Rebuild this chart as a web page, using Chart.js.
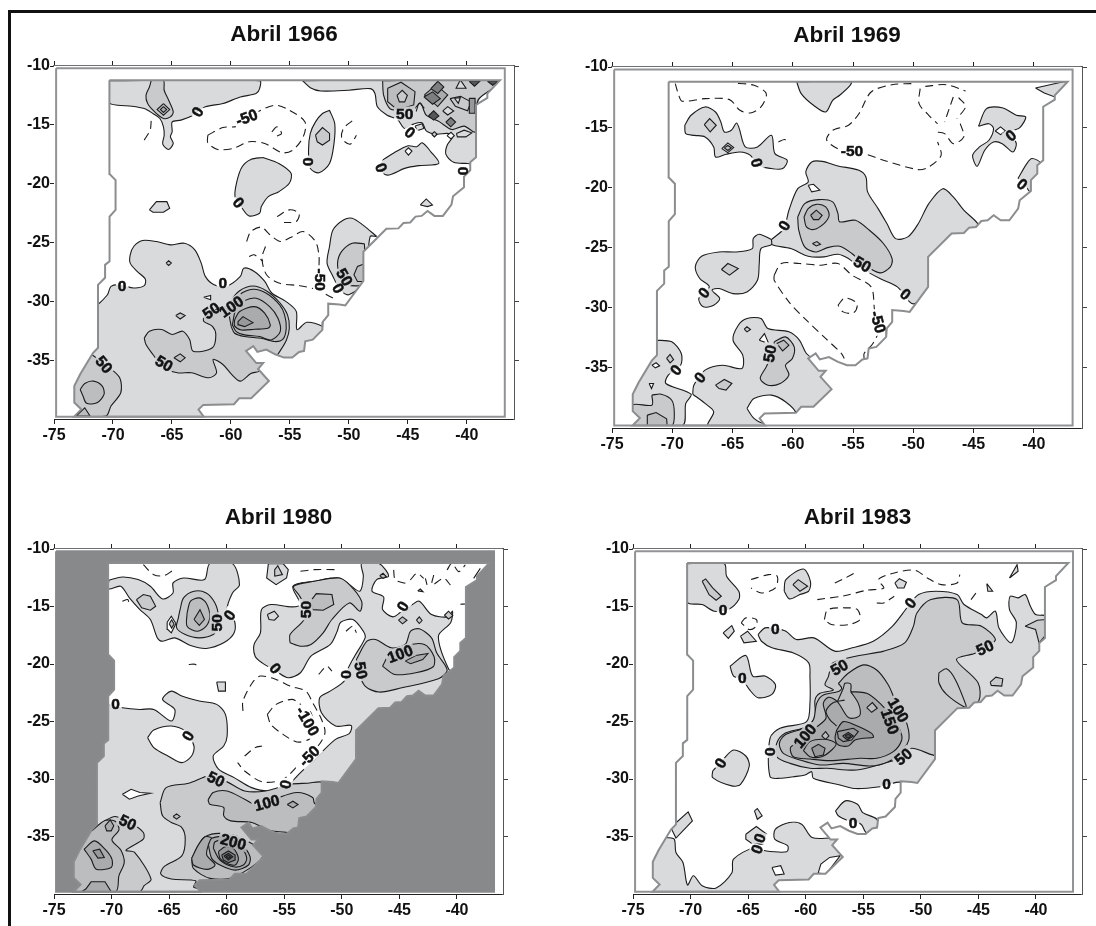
<!DOCTYPE html>
<html>
<head>
<meta charset="utf-8">
<title>Abril</title>
<script src="https://cdn.jsdelivr.net/npm/chart.js@4/dist/chart.umd.min.js"></script>
<style>
  html, body { margin: 0; height: 100%; background: #fff; overflow: hidden; }
  #border { position: absolute; left: 8px; top: 10px; right: 0; bottom: 0; border-top: 3px solid #111; border-left: 3px solid #111; }
  canvas { position: absolute; }
</style>
</head>
<body>
<div id="border"></div>
<canvas id="map1966"></canvas>
<canvas id="map1969"></canvas>
<canvas id="map1980"></canvas>
<canvas id="map1983"></canvas>
<script>
const tickLon = [-75, -70, -65, -60, -55, -50, -45, -40];
const tickLat = [-10, -15, -20, -25, -30, -35];
const shades = ['#ffffff', '#d9dadc', '#c9cacc', '#bcbdbf', '#aaabad', '#98999b', '#7d7e80', '#55565a'];

const plotEdge = [-75,-10, -75,-40, -36,-40, -36,-10, -75,-10];
const frame = [-74.82,-10.2, -74.82,-39.8, -36.78,-39.8, -36.78,-10.2, -74.82,-10.2];
const domain = [-70.3,-11.22, -37.19,-11.22, -38.26,-12.35, -38.26,-12.71, -39.22,-13.3, -39.22,-17.75, -39.71,-18.17, -39.71,-18.86, -40.24,-19.4, -40.24,-20.3, -41.17,-21.07, -41.3,-21.77, -42.03,-22.74, -42.75,-22.74, -43.33,-22.32, -43.83,-22.74, -44.35,-22.8, -44.8,-23.3, -45.37,-23.35, -45.8,-23.8, -46.82,-23.84, -48.77,-25.78, -48.77,-28.27, -50.3,-30.35, -50.8,-30.27, -51.75,-30.2, -51.75,-31.18, -52.2,-31.73, -52.25,-32.43, -53.06,-33.26, -53.7,-33.4, -53.8,-34.22, -54.22,-34.3, -54.8,-34.78, -55.5,-34.78, -56.25,-34.5, -57,-34.1, -57.76,-34.3, -58.1,-33.8, -58.72,-34.22, -57.85,-35.25, -57.27,-35.25, -57.7,-35.75, -56.78,-36.77, -58.28,-38.24, -59.3,-38.24, -59.74,-38.74, -62.35,-38.8, -62.75,-39.2, -62.3,-39.8, -73.3,-39.8, -72.69,-39.18, -73.28,-38.6, -73.28,-37.2, -72.78,-36.2, -71.7,-34.4, -71.27,-33.95, -71.27,-28.6, -70.67,-28, -70.67,-26.9, -70.29,-26.6, -70.29,-22.8, -69.78,-22.23, -69.78,-19.7, -70.29,-19.18];

// Abril 1966
const nw66 = [-70.29,-11.24, -57.57,-11.24, -57.57,-11.92, -57.87,-12.34, -59.2,-12.63, -60.68,-13.19, -62.17,-13.47, -63.2,-14.18, -64.24,-14.6, -64.98,-14.75, -64.98,-15.59, -65.13,-16.02, -64.89,-16.58, -65.28,-17.09, -65.78,-16.64, -65.66,-15.88, -65.72,-15.17, -66.02,-14.46, -66.61,-14.04, -67.35,-13.62, -68.39,-13.42, -69.58,-13.33, -70.29,-13.14];
const nwMid66 = [-66.76,-11.24, -65.72,-11.24, -65.66,-12.06, -65.28,-12.91, -64.89,-13.9, -65.13,-14.32, -65.72,-14.46, -66.46,-13.9, -67.06,-13.19, -67.2,-12.49, -66.91,-11.78];
const nwPeak66 = [-65.72,-13.19, -65.19,-13.7, -65.72,-14.18, -66.26,-13.7];
const nwTop66 = [-65.72,-13.45, -65.45,-13.7, -65.72,-13.95, -65.98,-13.7];
const ne66 = [-53.93,-11.24, -53.27,-11.84, -52.39,-12.12, -50.01,-12.06, -48.18,-11.92, -47.79,-12.34, -47.58,-13.47, -46.75,-14.18, -45.87,-14.55, -45.27,-15.31, -44.53,-14.94, -43.79,-14.83, -43.44,-15.51, -42.6,-15.79, -41.57,-15.73, -41.21,-16.02, -41.66,-16.72, -41.78,-17.49, -41.12,-18.19, -39.94,-18.28, -39.05,-18.28, -39.05,-12.9, -37,-11.24];
const neMid66 = [-47.14,-11.24, -47.05,-12.49, -46.52,-13.62, -45.87,-13.76, -44.53,-13.7, -43.94,-13.14, -43.44,-14.18, -42.31,-14.75, -41.27,-15.4, -40.23,-15.11, -39.29,-15.59, -39.05,-12.9, -37,-11.24];
const neRing66 = [-46.71,-11.89, -45.58,-11.38, -44.39,-12.18, -44.5,-13.31, -45.86,-13.73, -46.71,-13.03];
const neA66 = [-45.92,-12.49, -45.48,-12.06, -45.04,-12.49, -45.27,-13.05, -45.72,-13.05];
const neRingB66 = [-43.6,-12.46, -42.61,-11.61, -41.62,-12.46, -42.47,-13.45];
const neB66 = [-43.64,-12.63, -42.9,-12.2, -42.25,-12.77, -42.9,-13.25];
const neC66 = [-43.26,-14.24, -42.81,-13.81, -42.37,-14.24, -42.81,-14.6];
const neD66 = [-41.78,-14.77, -41.36,-14.38, -40.95,-14.77, -41.36,-15.17];
const neE66 = [-43.05,-11.92, -42.46,-11.3, -41.95,-11.78, -42.46,-12.34];
const neF66 = [-39.8,-11.3, -38.9,-11.3, -39.35,-11.72];
const neG66 = [-38.25,-11.3, -37.33,-11.3, -37.8,-11.64];
const neH66 = [-42.04,-13.82, -41.62,-13.45, -41.11,-13.82, -41.62,-14.16];
const neI66 = [-41.42,-12.77, -40.53,-12.57, -39.64,-13.05, -39.94,-13.81, -40.97,-13.42];
const neJ66 = [-40.55,-11.18, -40.07,-11.89, -40.91,-11.89];
const neK66 = [-44.38,-15.1, -43.79,-14.9, -43.64,-15.31, -44.23,-15.51];
const neL66 = [-40.88,-15.73, -40.23,-15.45, -39.58,-15.68, -40.08,-16.02, -40.8,-16.02];
const neM66 = [-41.05,-12.74, -40.55,-12.69, -40.72,-13.17];
const neN66 = [-39.79,-12.75, -39.3,-12.75, -39.3,-14.02, -39.79,-14.02];
const neO66 = [-42.98,-15.8, -42.75,-15.58, -42.52,-15.8, -42.75,-16.03];
const neP66 = [-41.68,-15.92, -41.34,-15.63, -41.06,-15.92, -41.34,-16.2];
const neLine66 = [-44.3,-13.87, -44.02,-13.17, -43.6,-13.59];
const mid66 = [-47.05,-17.94, -46.16,-17.37, -44.98,-16.78, -44.24,-16.86, -43.79,-16.53, -43.05,-17.29, -42.37,-18.28, -44.09,-18.47, -45.27,-18.7, -46.75,-19.27, -47.5,-18.6];
const midHole66 = [-45.24,-17.23, -44.95,-16.95, -44.65,-17.23, -44.95,-17.57];
const oval66 = [-51.64,-13.76, -51.2,-14.89, -51.26,-16.58, -51.64,-18.28, -52.53,-19.07, -53.27,-18.7, -53.42,-17.15, -53.27,-15.73, -52.83,-14.75, -52.24,-14.04];
const ovalIn66 = [-52.83,-15.88, -52.24,-15.23, -51.64,-15.73, -51.64,-16.3, -52.24,-16.72, -52.68,-16.44];
const centre66 = [-57.28,-17.77, -55.94,-18.28, -54.9,-19.12, -55.05,-19.97, -55.94,-20.68, -56.83,-21.1, -57.42,-21.95, -57.57,-22.51, -58.46,-22.74, -59.05,-22.09, -59.65,-21.1, -59.5,-19.83, -59.05,-18.56, -58.31,-17.94];
const west66 = [-66.91,-22.23, -66.32,-21.53, -65.43,-21.53, -65.19,-22.09, -65.72,-22.43, -66.61,-22.43];
const tiny66 = [-43.94,-21.81, -43.44,-21.3, -42.91,-21.81, -43.35,-21.95];
const coast66 = [-47.64,-24.49, -48.83,-23.5, -49.72,-22.94, -50.46,-23.08, -51.35,-23.93, -51.64,-25.34, -51.85,-26.75, -51.35,-27.88, -50.75,-29.01, -50.01,-29.44, -48.68,-28.31, -48.2,-24.5];
const coastMid66 = [-48.68,-25.11, -49.72,-25.06, -50.61,-25.76, -50.96,-26.75, -50.75,-27.74, -50.16,-28.59, -48.68,-28.45];
const coastTop66 = [-48.68,-26.81, -49.27,-27.03, -49.57,-27.74, -49.27,-28.31, -48.68,-28.31];
const south66 = [-71.27,-30.28, -70.47,-29.44, -70.17,-28.73, -69.43,-28.59, -68.24,-28.87, -67.35,-28.67, -67.26,-28.11, -67.95,-27.46, -68.54,-26.75, -68.54,-26.05, -68.24,-25.34, -67.5,-24.83, -66.32,-24.92, -65.13,-25.2, -63.94,-25.06, -63.06,-25.62, -62.52,-26.75, -62.17,-27.88, -61.43,-28.59, -60.39,-28.73, -59.2,-27.88, -58.91,-27.18, -58.02,-27.46, -57.13,-28.31, -56.54,-29.29, -55.35,-30, -54.46,-30.85, -54.4,-32.4, -53.57,-31.78, -52.24,-32.12, -51,-33, -55,-39.7, -74.6,-39.7, -74.6,-30.28];
const southMid66 = [-67.35,-33.11, -66.91,-32.54, -65.87,-32.4, -64.98,-32.82, -64.09,-32.54, -63.5,-33.25, -63.2,-34.24, -61.57,-33.95, -61.28,-32.82, -61.57,-32.12, -62.31,-31.69, -62.17,-31.13, -60.39,-30.28, -59.26,-29.1, -58.13,-28.7, -57,-29.1, -55.87,-30.1, -55.2,-31.15, -55.05,-32.29, -55.3,-33.3, -55.94,-34.38, -56.24,-34.8, -57.57,-35.93, -58.31,-36.13, -59.2,-36.78, -59.94,-36.21, -60.68,-35.37, -61.51,-34.94, -61.22,-36.07, -61.87,-36.5, -63.35,-36.07, -64.54,-36.07, -65.72,-35.65, -66.61,-34.52, -67.2,-33.67];
const swMid66 = [-71.8,-34.52, -70.47,-35.51, -69.43,-36.5, -69.34,-37.77, -70.17,-38.9, -70.61,-39.75, -74.6,-39.75, -74.6,-34.52];
const swPeak66 = [-72.78,-37.49, -72.39,-36.98, -71.65,-36.78, -70.91,-37.2, -70.76,-37.91, -71.35,-38.62, -72.24,-38.67, -72.54,-38.05];
const swLow66 = [-73.13,-39.75, -72.39,-39.05, -71.95,-39.75];
const peakA66 = [-59.97,-32.15, -60.11,-31.01, -59.26,-29.45, -58.13,-28.97, -57,-29.31, -55.87,-30.3, -55.45,-31.15, -55.31,-32.29, -55.59,-33.22, -56.3,-33.42, -57.43,-33.14, -58.84,-32.99, -59.69,-32.71];
const peakB66 = [-59.88,-32, -59.55,-30.59, -58.84,-29.94, -57.85,-29.74, -56.72,-30.45, -56.01,-31.44, -55.82,-32.57, -56.58,-33.28, -57.57,-32.99, -58.84,-32.85, -59.55,-32.57];
const peakC66 = [-59.69,-31.58, -59.26,-30.87, -57.99,-30.45, -57.14,-31.01, -56.66,-32, -56.86,-32.29, -57.99,-32.37, -59.12,-32.43, -59.69,-32.09];
const peakD66 = [-59.4,-31.72, -58.98,-31.3, -58.13,-31.81, -58.84,-32.15, -59.32,-32];
const dotA66 = [-64.68,-31.21, -64.3,-30.99, -63.88,-31.21, -64.3,-31.5];
const dotB66 = [-64.83,-34.8, -64.3,-34.46, -63.88,-34.8, -64.3,-35.14];
const dotC66 = [-62.31,-29.66, -61.72,-29.5, -61.72,-29.86];
const dotD66 = [-65.5,-26.75, -65.28,-26.55, -65.05,-26.75, -65.28,-26.95];
const dashA66 = [-61.96,-15.88, -60.68,-15.23, -59.5,-15.11, -57.72,-13.9, -56.24,-13.33, -55.05,-13.76, -53.72,-14.75, -53.87,-16.02, -54.76,-17.15, -55.65,-17.37, -57.13,-16.58, -58.46,-16.44, -59.8,-17, -61.13,-17.09, -61.96,-16.53, -61.96,-15.88];
const dashB66 = [-56.53,-15.59, -56.09,-15.17, -55.71,-15.73, -56.09,-15.96];
const dashC66 = [-49.72,-14.66, -50.46,-15.31, -50.6,-16.16, -49.87,-16.64, -49.36,-15.88];
const dashD66 = [-66.76,-14.66, -66.85,-15.45, -67.35,-16.3];
const dashE66 = [-58.67,-24.91, -58.31,-24.07, -57.42,-23.7, -56.68,-24.35, -55.79,-24.92, -54.9,-24.55, -53.87,-24.07, -52.83,-24.92, -52.53,-26.19, -52.53,-27.46, -52.24,-29.15, -51.35,-29.72];
const dashF66 = [-57.07,-25.34, -57.37,-26.33, -56.98,-27.74, -55.94,-28.45, -54.16,-28.67, -52.83,-28.95];
const dashG66 = [-58.46,-26.19, -58.02,-26.05, -57.28,-26.6];
const dashH66 = [-56.09,-22.8, -55.05,-22.23, -54.22,-22.51, -54.46,-23.22, -55.5,-23.3];
const layers1966 = [[1,nw66],[2,nwMid66],[3,nwPeak66],[4,nwTop66],[1,ne66],[2,neMid66],[3,neRing66],[2,neA66],[4,neRingB66],[6,neB66],[7,neC66],[6,neD66],[6,neE66],[7,neF66],[7,neG66],[1,neH66],[2,neI66],[1,neJ66],[1,neK66],[1,neL66],[1,neM66],[5,neN66],[2,neO66],[0,neP66],[1,mid66],[0,midHole66],[1,oval66],[2,ovalIn66],[1,centre66],[1,west66],[1,tiny66],[1,coast66],[2,coastMid66],[3,coastTop66],[1,south66],[2,southMid66],[2,swMid66],[3,swPeak66],[3,swLow66],[3,peakA66],[3,peakB66],[4,peakC66],[5,peakD66],[2,dotA66],[3,dotB66],[0,dotC66],[2,dotD66]];
const solids1966 = [neLine66];
const dashes1966 = [dashA66, dashB66, dashC66, dashD66, dashE66, dashF66, dashG66, dashH66];
const labels1966 = [['0',-62.82,-13.9,-60],['-50',-58.67,-14.38,-20],['0',-53.42,-18.14,90],['0',-44.83,-15.65,40],['50',-45.27,-14.04,0],['0',-47.26,-18.64,70],['0',-40.32,-18.93,90],['0',-59.35,-21.61,50],['0',-69.22,-28.64,0],['0',-60.68,-28.45,0],['-50',-52.44,-28.16,90],['50',-50.37,-27.94,60],['0',-50.9,-28.9,60],['50',-61.66,-30.79,-35],['100',-59.97,-30.45,-35],['50',-70.76,-35.37,50],['50',-65.66,-35.28,30]];

// Abril 1969
const top69 = [-59.68,-11.22, -59.3,-12.21, -58.28,-13.18, -57.27,-13.74, -56.69,-12.77, -56.11,-12.35, -55.24,-11.52, -55.15,-11.22];
const lobe69 = [-68.96,-14.84, -68.44,-14.01, -67.28,-13.32, -66.41,-13.74, -65.97,-14.57, -65.68,-15.4, -65.1,-15.26, -64.67,-14.65, -64.44,-15.12, -63.94,-16.64, -62.93,-16.64, -61.77,-15.68, -61.48,-17.2, -60.46,-17.75, -60.84,-18.44, -61.77,-18.44, -62.93,-18.17, -63.51,-17.34, -64.38,-17.06, -65.54,-17.25, -66.41,-17.48, -66.56,-16.64, -67.28,-15.81, -68.15,-15.68, -68.88,-15.54];
const lobeA69 = [-67.34,-14.79, -66.9,-14.29, -66.35,-14.84, -66.85,-15.4];
const lobeB69 = [-65.89,-16.78, -65.39,-16.31, -64.9,-16.7, -65.39,-17.12];
const lobeC69 = [-65.68,-16.72, -65.39,-16.52, -65.1,-16.72, -65.39,-16.94];
const main69 = [-61.77,-24.34, -60.75,-23.43, -60.32,-21.9, -59.59,-20.11, -58.72,-19.55, -58.92,-18.72, -58.43,-17.89, -57.56,-17.84, -56.25,-18.22, -54.51,-18.58, -53.93,-19.14, -53.79,-20.38, -52.92,-21.77, -52.19,-23.01, -51.47,-24.26, -50.45,-24.12, -49.58,-23.01, -48.71,-21.35, -47.55,-20.11, -46.68,-20.8, -45.81,-21.9, -44.7,-22.96, -44.36,-23.84, -47.84,-28.27, -49.87,-29.66, -50.3,-29.52, -51.32,-28.27, -52.77,-27.58, -54.51,-26.61, -55.38,-25.92, -56.25,-25.56, -57.41,-25.78, -58.72,-25.73, -60.17,-25.09, -61.77,-24.76];
const mainHole69 = [-58.72,-19.83, -58.28,-19.75, -57.76,-20.24, -58.43,-20.38];
const mainMid69 = [-59.59,-22.46, -59.01,-21.35, -57.85,-21.02, -56.69,-21.21, -56.25,-22.18, -56.11,-22.87, -54.8,-22.74, -53.64,-23.57, -52.48,-24.67, -51.76,-25.92, -51.9,-26.61, -52.77,-27.11, -54.22,-26.33, -55.09,-25.5, -56.11,-24.89, -57.12,-25.01, -58.14,-25.37, -59.01,-24.95, -59.5,-23.57];
const mainHigh69 = [-59.07,-22.46, -58.72,-21.77, -58,-21.41, -57.27,-21.63, -56.98,-22.32, -57.41,-23.01, -58.28,-23.51, -58.86,-23.29];
const mainTop69 = [-58.52,-22.32, -58.05,-21.9, -57.56,-22.32, -57.85,-22.68, -58.28,-22.68];
const mainDot69 = [-58.37,-24.67, -57.99,-24.51, -57.7,-24.73, -58.05,-24.87];
const west69 = [-61.77,-24.34, -62.78,-23.9, -63.28,-24.26, -63.36,-25.09, -64.67,-25.37, -66.12,-25.37, -67.57,-25.73, -68.09,-26.61, -67.72,-27.58, -66.93,-28.27, -67.8,-29.24, -67.43,-29.93, -66.56,-29.8, -66.06,-29.24, -66.7,-28.55, -66.12,-28.41, -64.96,-28.83, -63.8,-28.69, -62.93,-27.72, -62.78,-26.33, -62.64,-25.09, -61.77,-24.76];
const westIn69 = [-65.92,-26.83, -65.39,-26.33, -64.52,-26.75, -65.25,-27.3];
const south69 = [-68.3,-37.19, -68.21,-36.44, -67.28,-35.19, -65.83,-34.78, -64.23,-35.06, -64.15,-33.95, -64.96,-32.7, -64.52,-31.46, -63.8,-30.9, -62.64,-30.9, -62.06,-31.73, -60.32,-32.01, -59.45,-32.7, -58.87,-33.81, -58.28,-34.22, -55,-35.5, -56,-38.5, -60,-39.7, -67,-39.8, -66.56,-38.65, -67.28,-37.96];
const southHole69 = [-63.8,-38.38, -63.22,-37.55, -61.77,-37.27, -60.61,-37.82, -59.74,-38.79, -60.6,-39.35, -62.35,-39.62, -63.22,-39.2];
const southMid69 = [-61.53,-32.84, -60.61,-32.43, -59.88,-33.26, -60.03,-34.22, -60.61,-34.78, -60.32,-35.61, -61.04,-36.3, -62.06,-36.44, -62.7,-35.89, -62.2,-34.92, -61.77,-33.95];
const southTop69 = [-61.33,-32.98, -60.75,-32.7, -60.32,-33.12, -60.84,-33.59];
const southWhite69 = [-62.78,-32.7, -62.35,-32.15, -62,-32.98];
const southDot69 = [-64.03,-31.79, -63.8,-31.59, -63.51,-31.82, -63.8,-32.01];
const southBlob69 = [-66.41,-36.44, -65.68,-35.97, -65.05,-36.3, -65.54,-36.85, -66.12,-36.72];
const sw69 = [-71.34,-32.7, -70.04,-32.84, -69.25,-33.81, -69.31,-34.78, -70.33,-35.61, -70.53,-36.3, -68.44,-37.19, -68.88,-37.96, -69.17,-39.8, -74.6,-39.8, -74.6,-32.7];
const swDot69 = [-70.47,-34.22, -70.18,-33.89, -69.89,-34.32, -70.18,-34.59];
const swWhiteA69 = [-71.69,-34.78, -71.34,-34.58, -71.05,-34.83, -71.4,-35];
const swWhiteB69 = [-71.92,-36.3, -71.55,-36.3, -71.72,-36.72];
const swMid69 = [-71.69,-37.27, -70.91,-37.19, -70.04,-37.69, -69.83,-38.79, -70.04,-39.8, -73.23,-39.8, -73.32,-38.1, -71.69,-38.1];
const swHigh69 = [-72.07,-38.93, -71.34,-38.71, -70.47,-39.23, -70.42,-39.8, -72.07,-39.8];
const ne69 = [-44.59,-14.93, -43.92,-13.46, -42.62,-13.38, -41.45,-14.01, -40.67,-14.15, -41.16,-15.04, -41.89,-15.4, -41.45,-16.37, -41.74,-17.06, -42.62,-16.37, -43.34,-16.23, -44.07,-16.92, -44.7,-18.25, -45.08,-17.34, -44.5,-16.64, -43.72,-16.09, -43.34,-15.12, -43.72,-14.71];
const neHole69 = [-43.2,-15.32, -42.76,-14.98, -42.34,-15.32, -42.76,-15.62];
const edge69 = [-41.31,-19.27, -40.58,-18.03, -40.15,-17.61, -39.4,-18.03, -39.7,-19.97, -40.29,-20.38, -40.87,-19.55];
const corner69 = [-39.86,-11.74, -38.84,-11.52, -37.54,-11.22, -37,-11.22, -38.26,-12.49, -39.13,-12.16];
const dashA69 = [-50.16,-11.38, -51.76,-11.47, -53.5,-12.08, -54.51,-13.88, -55.38,-14.84, -56.69,-15.26, -57.18,-16.09, -55.96,-16.92, -54.08,-17.2, -52.48,-17.75, -49.58,-18.53, -48.71,-18.31, -47.69,-17.34, -47.98,-16.23];
const dashB69 = [-49.43,-11.8, -49.52,-13.05, -48.71,-14.01, -47.98,-14.71];
const dashC69 = [-49,-11.61, -47.26,-11.47, -45.66,-11.99];
const dashD69 = [-46.68,-12.49, -46.97,-13.32, -47.4,-14.57];
const dashE69 = [-46.24,-12.55, -45.66,-13.27, -46.39,-14.29];
const dashF69 = [-46.1,-14.71, -45.81,-15.81, -46.68,-16.37, -47.4,-15.54, -48.13,-15.4];
const dashG69 = [-69.75,-11.38, -69.46,-12.35, -69.17,-12.85, -67.28,-12.63, -65.25,-12.71, -64.38,-13.6, -63.51,-13.82, -62.64,-13.32, -62.2,-12.21, -63.22,-11.52, -64.96,-11.33];
const dashH69 = [-61.19,-16.23, -60.67,-16.03, -60.32,-16.37];
const dashI69 = [-61.54,-27.3, -60.95,-26.33, -59.45,-26.33, -57.7,-26.47, -56.25,-26.33, -55.09,-27.3, -53.5,-28.27, -53.21,-30.21, -52.83,-31.73, -53.35,-32.98, -54.08,-33.81, -54.08,-34.22];
const dashJ69 = [-61.54,-27.3, -61.54,-27.72, -60.32,-29.52, -58.87,-31.04, -57.41,-32.43, -55.96,-33.81, -55.73,-34.22];
const dashK69 = [-56.25,-29.8, -55.67,-29.19, -54.66,-29.66, -54.95,-30.43, -55.82,-30.35, -56.25,-29.8];
const layers1969 = [[1,top69],[1,lobe69],[2,lobeA69],[2,lobeB69],[3,lobeC69],[1,main69],[0,mainHole69],[2,mainMid69],[3,mainHigh69],[4,mainTop69],[3,mainDot69],[1,west69],[2,westIn69],[1,south69],[0,southHole69],[2,southMid69],[3,southTop69],[0,southWhite69],[2,southDot69],[2,southBlob69],[1,sw69],[2,swDot69],[0,swWhiteA69],[0,swWhiteB69],[2,swMid69],[3,swHigh69],[1,ne69],[0,neHole69],[1,edge69],[1,corner69]];
const dashes1969 = [dashA69, dashB69, dashC69, dashD69, dashE69, dashF69, dashG69, dashH69, dashI69, dashJ69, dashK69];
const labels1969 = [['-50',-55.09,-16.92,0],['0',-62.99,-17.97,75],['0',-60.69,-23.18,-60],['50',-54.22,-26.39,30],['0',-50.65,-28.88,40],['0',-67.37,-28.77,-50],['0',-41.89,-15.68,-40],['0',-40.96,-19.75,40],['-50',-52.92,-31.18,75],['50',-61.91,-33.81,-80],['0',-69.69,-35.19,-50],['0',-67.69,-35.8,-50]];

// Abril 1980
const nw80 = [-70.24,-12.72, -69.06,-12.43, -67.69,-12.66, -66.63,-13.24, -65.57,-14.34, -64.66,-13.82, -64.66,-12.95, -63.75,-12.52, -61.93,-12.66, -61.47,-11.27, -59.5,-11.27, -58.89,-13.1, -59.5,-13.82, -59.96,-15.27, -59.35,-16.13, -59.35,-17.29, -60.26,-18.16, -61.78,-18.65, -63.14,-18.39, -64.51,-17.73, -65.57,-18.02, -66.02,-17.73, -66.63,-16.13, -67.54,-15.27, -68.45,-14.25, -69.21,-13.24, -70.24,-13.47];
const nwMid80 = [-64.05,-15.27, -63.75,-14.25, -62.84,-13.67, -61.78,-13.82, -61.02,-14.69, -60.71,-15.85, -60.81,-16.86, -61.17,-17.44, -62.38,-17.73, -63.6,-17.44, -64.35,-16.86, -64.2,-15.99];
const nwHigh80 = [-63.44,-15.56, -63.14,-14.54, -62.38,-14.25, -61.78,-14.69, -61.47,-15.85, -61.78,-16.71, -62.53,-17.15, -63.44,-16.71];
const nwTop80 = [-62.84,-16.13, -62.32,-15.27, -61.93,-16.13, -62.38,-16.65];
const nwLobe80 = [-67.84,-14.4, -67.24,-13.96, -66.63,-14.11, -66.17,-14.98, -66.63,-15.32, -67.39,-15.12];
const nwHole80 = [-65.17,-16.37, -64.81,-15.85, -64.41,-16.48, -64.81,-17.29, -65.11,-17];
const nwDot80 = [-64.99,-16.5, -64.78,-16.15, -64.57,-16.52, -64.78,-16.88];
const topBlob80 = [-56.38,-11.27, -56.53,-12.52, -55.71,-13.1, -54.8,-12.52, -54.65,-11.79, -55.1,-11.27];
const topIn80 = [-55.83,-11.79, -55.56,-11.45, -55.16,-12.23, -55.86,-12.37];
const main80 = [-70.24,-23.51, -69.06,-23.8, -67.54,-23.95, -66.33,-23.95, -64.81,-24.96, -64.51,-23.95, -65.57,-23.08, -64.81,-22.36, -63.9,-22.79, -62.38,-23.22, -60.87,-23.51, -60.11,-24.38, -59.96,-26.26, -60.26,-27.13, -61.17,-28, -60.71,-29.15, -59.35,-29.88, -57.83,-30.75, -56.32,-31.04, -54.8,-30.6, -53.59,-29.44, -52.37,-28.29, -50.55,-26.55, -49.34,-26.03, -49.19,-25.34, -50.55,-25.39, -51.77,-24.24, -51.92,-22.93, -51.01,-22.36, -49.8,-21.49, -49.49,-20.47, -48.89,-19.32, -47.98,-17.73, -48.13,-17.15, -49.04,-16.13, -50.1,-16.37, -50.4,-17.15, -51,-18.3, -52.68,-19.32, -53.59,-20.76, -54.65,-21.2, -55.71,-20.62, -56.92,-19.9, -57.53,-19.32, -57.62,-18.3, -57.07,-17.29, -56.98,-15.27, -56.16,-14.83, -54.35,-15.03, -53.59,-14.83, -54.25,-13.24, -52.37,-12.81, -50.25,-12.52, -49.34,-13.1, -48.43,-13.67, -48.13,-12.37, -48.28,-11.27, -46.76,-11.27, -45.94,-12.37, -46.97,-12.66, -47.37,-13.67, -46.37,-14.17, -46.46,-15.27, -45.55,-15.9, -44.79,-15.41, -43.88,-14.83, -43.27,-14.54, -42.21,-15.7, -40.79,-15.9, -40.39,-15.41, -40.55,-16.42, -41.61,-17.58, -40.7,-20.47, -39.94,-21.05, -42,-24, -47,-26, -48,-30, -53,-35, -56,-39.7, -74.6,-39.8, -74.6,-23.51];
const lakeA80 = [-66.87,-26.41, -66.33,-25.74, -64.81,-25.39, -63.6,-25.83, -62.84,-27.13, -63.05,-28, -63.9,-28.58, -65.11,-28, -66.33,-27.27];
const lakeB80 = [-69.06,-31.33, -68.3,-30.89, -67.54,-31.18, -66.63,-31.24, -67.69,-31.48, -68.45,-31.76];
const upper80 = [-54.5,-18.16, -54.5,-17.44, -53.28,-16.13, -53.22,-14.98, -53.65,-14.11, -54.19,-13.24, -52.37,-12.81, -50.25,-12.52, -49.34,-13.1, -48.28,-14.54, -48.43,-15.41, -49.34,-14.69, -50.86,-16.13, -51.62,-17.29, -52.68,-18.3, -53.59,-18.45];
const upperHigh80 = [-52.83,-14.69, -52.22,-13.88, -50.86,-13.96, -50.7,-14.83, -51.62,-15.32, -52.53,-15.27];
const upperBlob80 = [-56.47,-15.7, -55.86,-15.41, -55.5,-15.84, -55.86,-16.19, -56.32,-16.13];
const square80 = [-60.87,-21.57, -60.11,-21.57, -60.11,-22.36, -60.71,-22.36];
const band80 = [-65.78,-32.05, -65.26,-30.75, -63.29,-30.37, -61.47,-29.73, -59.96,-30.25, -58.44,-31.04, -56.62,-31.04, -54.5,-30.46, -52.98,-30.37, -51.62,-30.31, -50,-32, -55,-37, -60,-39.7, -62.84,-39.43, -62.69,-38.85, -64.81,-38.7, -65.72,-38.27, -65.42,-37.6, -63.9,-36.68, -63.6,-35.23, -63.9,-34.22, -64.81,-33.78, -65.57,-33.2];
const bandHigh80 = [-61.62,-31.82, -61.17,-31.18, -59.96,-31.04, -58.44,-31.76, -57.23,-32.34, -55.71,-31.7, -53.89,-31.18, -52.53,-31.61, -52.37,-32.11, -50.86,-33.2, -53,-36, -54.5,-34.71, -56.16,-34.51, -57.83,-33.78, -59.65,-33.64, -60.26,-33.2, -60.26,-32.48, -61.47,-32.19];
const bandDot80 = [-54.74,-32.22, -54.25,-31.93, -53.8,-32.22, -54.25,-32.51];
const peakA80 = [-63.04,-36.9, -62.46,-35.74, -61.88,-35.02, -60.58,-34.73, -58.69,-35.16, -56.81,-36.61, -59.42,-38.55, -61.45,-38.64, -62.89,-37.77];
const peakLeft80 = [-63.04,-36.9, -62.46,-35.74, -61.88,-35.02, -61.3,-35.16, -61.59,-35.74, -61.73,-36.61, -61.01,-37.48, -61.73,-37.86, -62.89,-37.48];
const peakB80 = [-61.59,-35.74, -61.3,-35.16, -60.14,-35.02, -58.69,-35.74, -57.97,-36.76, -58.11,-37.48, -59.27,-37.92, -60.58,-37.48, -61.3,-36.9];
const peakC80 = [-61.16,-36.03, -61.01,-35.45, -59.85,-35.31, -58.69,-36.03, -58.26,-36.9, -58.55,-37.48, -59.42,-37.63, -60.58,-37.05];
const peakD80 = [-60.72,-36.32, -60.14,-35.89, -59.42,-36.03, -58.98,-36.9, -59.27,-37.48, -60.14,-37.28, -60.58,-36.9];
const peakE80 = [-60.43,-36.61, -59.85,-36.26, -59.27,-36.61, -59.27,-37.05, -59.85,-37.28, -60.29,-37.05];
const peakF80 = [-60.23,-36.7, -59.85,-36.47, -59.47,-36.76, -59.85,-37.05];
const peakG80 = [-60.05,-36.76, -59.85,-36.64, -59.65,-36.79, -59.85,-36.9];
const sw80 = [-71.72,-34.51, -70.57,-33.64, -69.66,-33.26, -68.15,-33.93, -67.24,-34.65, -67.24,-35.23, -68.75,-36.19, -68,-36.39, -66.57,-38.7, -67.17,-39.28, -67.54,-39.8, -74.6,-39.8, -74.6,-34.51];
const swHigh80 = [-71.72,-34.51, -70.57,-33.61, -69.66,-33.7, -69.36,-34.42, -69.97,-35.29, -69.21,-36.16, -68.9,-37.26, -69.36,-38.41, -69.66,-39.8, -74.6,-39.8, -74.6,-34.51];
const swTopA80 = [-72.39,-36.1, -71.48,-35.38, -70.57,-36.1, -69.97,-36.97, -70.03,-37.69, -71.33,-37.84, -71.78,-36.97];
const swTopB80 = [-71.63,-36.24, -71.03,-36.1, -70.63,-36.82, -71.18,-36.88];
const swTopC80 = [-70.57,-34.07, -70.12,-33.55, -69.81,-34.07, -70.03,-34.51, -70.42,-34.51];
const swTopD80 = [-72.24,-39.57, -71.78,-38.94, -70.57,-38.94, -70.03,-39.8, -72.6,-39.8];
const east80 = [-48.73,-19.61, -47.82,-18.02, -47.07,-17.87, -45.7,-18.59, -44.49,-18.3, -44.03,-17.15, -43.27,-16.94, -42.21,-17.73, -41.76,-19.03, -40.85,-20.53, -41.61,-21.28, -44.79,-22.07, -46.76,-22.44, -47.98,-21.92, -48.58,-20.62];
const eastHigh80 = [-46.46,-20.19, -46,-19.38, -44.49,-18.45, -42.82,-18.3, -42,-19.32, -42.06,-20.24, -43.58,-20.76, -45.4,-20.91];
const eastTop80 = [-44.49,-19.75, -43.58,-19.26, -42.52,-19.09, -42.97,-19.61, -44.03,-19.98];
const dotA80 = [-45.08,-16.19, -44.73,-15.9, -44.34,-16.19, -44.73,-16.51];
const dotB80 = [-43.52,-16.19, -43.27,-15.9, -43.03,-16.22, -43.27,-16.48];
const dotC80 = [-41.09,-15.76, -40.73,-15.41, -40.36,-15.79, -40.73,-16.08];
const dotD80 = [-64.66,-33.26, -64.35,-33.03, -64.05,-33.26, -64.35,-33.49];
const dotE80 = [-46.71,-12.32, -46.42,-12.11, -46.13,-12.4, -46.42,-12.55];
const dotF80 = [-43.41,-13.65, -43.18,-13.48, -42.95,-13.71];
const dashA80 = [-56.47,-24.38, -55.71,-23.51, -54.34,-23.08, -53.59,-23.51, -52.68,-24.24, -52.37,-25.97, -52.83,-26.55, -53.89,-26.78, -55.1,-26.12, -56.16,-25.25, -56.47,-24.38];
const dashB80 = [-58.59,-24.09, -58.59,-23.22, -57.77,-21.63, -57.07,-21.05, -55.71,-21.34, -54.5,-21.92, -53.13,-22.36, -52.53,-23.37, -51.77,-24.81, -51.46,-25.97, -52.07,-27.13, -53.59,-28.58, -55.1,-30.02, -56.92,-30.25, -58.44,-29.3, -59.05,-28.58];
const dashC80 = [-58.44,-28, -57.53,-27.27, -56.92,-27.13];
const dashD80 = [-69.06,-14.54, -68.6,-14.4, -68.45,-14.83];
const dashE80 = [-63.29,-20.04, -62.69,-20.04, -62.75,-20.47];
const dashF80 = [-67.24,-11.36, -66.33,-12.23, -65.42,-12.31, -64.66,-11.85];
const dashG80 = [-52.01,-20.91, -51.31,-20.19, -50.86,-20.62];
const dashH80 = [-49.64,-17.15, -49.04,-16.71, -48.73,-17.29];
const dashI80 = [-53.59,-11.94, -52.37,-11.79, -50.55,-11.79];
const dashJ80 = [-45.5,-11.82, -45.35,-12.69, -44.48,-12.98];
const dashK80 = [-44.05,-12.69, -43.47,-12.11, -42.89,-12.55];
const dashL80 = [-42.74,-12.55, -42.6,-13.13];
const dashM80 = [-42.02,-12.26, -42.17,-13.13, -41.15,-12.55, -40.57,-13.13];
const dashN80 = [-40.86,-11.82, -40.43,-11.24, -39.85,-11.97, -39.27,-11.39];
const dashO80 = [-39.7,-14.81, -39.18,-14.81, -39.56,-15.3];
const solidA80 = [-38.55,-12.55, -37.97,-11.68];
const layers1980 = [[1,main80],[0,lakeA80],[0,lakeB80],[1,nw80],[2,nwMid80],[3,nwHigh80],[4,nwTop80],[2,nwLobe80],[0,nwHole80],[3,nwDot80],[1,topBlob80],[2,topIn80],[2,upper80],[3,upperHigh80],[1,upperBlob80],[1,square80],[2,band80],[3,bandHigh80],[4,bandDot80],[3,peakA80],[4,peakLeft80],[4,peakB80],[4,peakC80],[5,peakD80],[6,peakE80],[7,peakF80],[7,peakG80],[2,sw80],[3,swHigh80],[4,swTopA80],[5,swTopB80],[4,swTopC80],[4,swTopD80],[2,east80],[3,eastHigh80],[4,eastTop80],[3,dotA80],[2,dotB80],[2,dotC80],[3,dotD80],[3,dotE80],[1,dotF80]];
const solids1980 = [solidA80];
const dashes1980 = [dashA80, dashB80, dashC80, dashD80, dashE80, dashF80, dashG80, dashH80, dashI80, dashJ80, dashK80, dashL80, dashM80, dashN80, dashO80];
const labels1980 = [['0',-69.66,-23.43,0],['50',-60.87,-16.42,-90],['0',-59.74,-15.76,-55],['50',-53.13,-15.27,-90],['0',-44.7,-14.98,-60],['0',-55.77,-20.39,50],['0',-49.64,-20.91,-90],['50',-48.34,-20.56,80],['100',-44.94,-19.11,-20],['-100',-52.98,-24.96,60],['-50',-52.83,-28,-45],['0',-63.35,-26.26,-60],['0',-54.89,-30.46,-80],['50',-60.93,-30.02,25],['100',-56.52,-32.06,-15],['50',-68.6,-33.78,25],['200',-59.42,-35.45,15]];

// Abril 1983
const main83 = [-64.14,-17.44, -63.53,-16.86, -62.63,-16.92, -61.72,-17.15, -60.81,-17.87, -59.29,-17.73, -57.47,-18.88, -55.95,-18.59, -54.13,-18.02, -52.46,-16.71, -51.1,-14.98, -50.19,-13.96, -48.67,-13.67, -46.85,-13.96, -46.25,-14.83, -44.73,-15.7, -44.28,-15.99, -43.52,-15.41, -43.21,-16.86, -42.15,-18.16, -41.7,-16.42, -42.3,-15.27, -42.24,-14.11, -41.55,-14.25, -40.94,-13.96, -40.48,-14.98, -40.03,-15.7, -39.12,-15.85, -38.66,-17.58, -40,-24, -47,-28, -50,-32, -51.71,-30.31, -52.77,-30.46, -53.54,-30.67, -55.65,-30.83, -57.02,-30.52, -59.34,-29.94, -59.48,-29.36, -60.06,-29.65, -61.07,-29.8, -62.23,-29.94, -63.1,-29.8, -63.1,-26.46, -62.23,-25.59, -59.92,-25.01, -59.63,-23.42, -59.63,-21.1, -59.74,-19.9, -61.11,-19.03, -62.93,-18.59, -63.84,-18.02];
const mid83 = [-57.92,-20.62, -57.62,-19.9, -55.65,-19.32, -53.22,-18.88, -51.4,-18.16, -50.64,-16.71, -50.34,-15.56, -49.13,-14.4, -46.85,-14.4, -46.4,-16.42, -44.73,-16.71, -43.52,-17.87, -44.43,-18.59, -45.34,-19.09, -46.91,-19.61, -45.03,-21.63, -44.97,-23.22, -46.55,-24.53, -48.07,-26.55, -48.37,-28, -50.79,-27.33, -51.52,-28.06, -53.25,-28.64 ,-55.57,-29.22, -58.18,-29.07, -59.63,-29.07, -61.36,-28.64, -62.52,-28.06, -62.52,-26.9, -61.8,-26.03, -59.92,-25.45, -59.19,-24.58, -59.19,-23.13, -58.76,-22.55, -57.6,-22.26, -58.32,-21.82, -58.03,-21.1];
const wedge83 = [-48.43,-20.76, -47.77,-20.42, -47.01,-21.34, -46.1,-23.51, -46.1,-23.8, -47.77,-22.64, -48.43,-21.63];
const high83 = [-57.16,-21.68, -56.3,-20.81, -54.99,-20.08, -53.83,-20.52, -52.82,-21.82, -52.24,-23.13, -51.37,-24.72, -51.02,-26.46, -51.66,-27.62, -52.82,-28.49, -54.41,-28.87, -56.73,-28.64, -58.76,-28.78, -60.49,-28.35, -61.94,-27.77, -62.29,-26.9, -61.8,-26.17, -60.2,-25.59, -59.34,-24.87, -59.05,-23.42, -58.47,-22.69, -57.16,-22.4, -56.87,-22.11];
const upper83 = [-56.09,-22.4, -54.7,-22.55, -53.54,-23.42, -52.53,-24.58, -51.81,-25.74, -51.66,-26.61, -52.39,-27.62, -53.83,-28.2, -55.28,-28.2, -57.89,-28.4, -59.63,-28.26, -61.07,-28.06, -61.31,-27.24, -60.2,-26.55, -59.19,-25.59, -58.24,-24.72, -58.47,-23.42, -58.03,-22.9, -57.25,-23.27, -56.38,-24.58, -55.86,-24.72, -55.28,-24.43, -55.43,-23.42];
const coreA83 = [-57.31,-25.74, -56.73,-25.01, -55.72,-25.3, -54.27,-26.03, -54.12,-26.37, -54.99,-26.46, -55.72,-26.61, -56.3,-27.13, -57.16,-27.04, -57.45,-26.46];
const coreB83 = [-57.25,-25.88, -55.86,-25.59, -55.43,-25.88, -56.01,-26.61, -56.73,-26.75, -57.16,-26.46];
const coreC83 = [-56.79,-26.26, -56.3,-25.94, -55.86,-26.26, -56.38,-26.61];
const coreD83 = [-56.58,-26.26, -56.3,-26.09, -56.06,-26.26, -56.32,-26.46];
const lowA83 = [-60.2,-27.53, -59.63,-26.75, -58.32,-26.55, -57.37,-26.9, -57.74,-27.48, -58.61,-28.06, -59.63,-28.06];
const lowB83 = [-59.48,-27.33, -58.9,-26.98, -58.32,-27.33, -58.47,-27.91, -59.19,-28.06];
const dotA83 = [-58.61,-26.26, -58.27,-25.88, -57.98,-26.26, -58.27,-26.55];
const dotB83 = [-54.7,-23.8, -54.21,-23.36, -53.78,-23.85, -54.27,-24.2];
const tongue83 = [-56.09,-22.4, -56.09,-21.74, -56.59,-21.68, -56.73,-22.11, -57.25,-23.27];
const nw83 = [-70.27,-11.27, -67.08,-11.27, -66.87,-12.37, -65.81,-13.67, -65.81,-14.4, -66.72,-15.27, -67.93,-15.41, -68.99,-14.83, -70.27,-14.63];
const nwIn83 = [-68.99,-12.81, -68.69,-12.6, -68.08,-13.38, -67.33,-14.11, -67.78,-14.46, -68.39,-13.97];
const blob83 = [-61.87,-13.67, -61.72,-12.66, -60.2,-11.74, -59.59,-12.81, -59.74,-13.67, -60.5,-13.96, -61.41,-14.34];
const blobIn83 = [-61.11,-13.1, -60.65,-12.66, -59.83,-13.24, -60.5,-13.67];
const topDot83 = [-52.25,-12.95, -51.86,-12.58, -51.25,-12.89, -51.46,-13.39, -52.01,-13.39];
const westA83 = [-67.17,-17.29, -66.42,-16.66, -66.2,-17.15, -66.72,-17.78];
const westB83 = [-65.66,-17.58, -65.05,-17.15, -64.29,-18.02, -65.36,-18.16];
const westC83 = [-66.57,-20.19, -65.2,-19.26, -64.6,-21.05, -63.53,-21.05, -62.63,-21.78, -62.93,-22.64, -64.14,-22.93, -64.9,-22.21, -65.51,-21.34, -66.27,-21.05];
const westD83 = [-68.08,-29.3, -67.17,-28.29, -66.26,-27.48, -65.2,-28, -64.9,-28.87, -65.66,-30.46, -66.42,-30.6, -68.08,-29.88];
const coastBlob83 = [-43.97,-21.57, -43.48,-21.14, -42.88,-21.29, -42.97,-21.92, -43.88,-21.86];
const coastEdge83 = [-57.41,-32.77, -56.56,-31.9, -55.5,-32.19, -55.04,-32.92, -53.83,-33.49, -53.83,-34.22, -54.74,-34.65, -55.19,-33.93, -56.26,-33.64, -57.17,-33.2];
const smallA83 = [-64.45,-32.77, -64.2,-32.57, -63.78,-33.2, -64.2,-33.5];
const smallB83 = [-65.2,-34.8, -64.29,-34.13, -63.38,-34.8, -63.68,-35.66, -64.6,-35.66, -65.2,-35.23];
const smallC83 = [-71.72,-34.22, -70.21,-32.86, -69.84,-33.64, -71.27,-35.14];
const south83 = [-72.09,-35.09, -71.42,-35.23, -71.27,-36.39, -70.66,-37.26, -70.27,-39.22, -69.75,-38.41, -68.99,-39.28, -67.78,-39.48, -66.42,-38.18, -66.27,-36.97, -64.45,-35.95, -63.53,-36.24, -61.65,-36.33, -61.56,-35.81, -62.69,-35.23, -62.63,-34.36, -61.41,-33.78, -60.35,-33.93, -59.44,-35.09, -57.17,-35.23, -55.95,-36.68, -59.29,-39.28, -60,-39.8, -74.6,-39.8, -74.6,-35.09];
const holeA83 = [-62.93,-37.69, -62.17,-37.54, -61.87,-38.27, -62.63,-38.36];
const holeB83 = [-58.92,-38.18, -58.68,-37.4, -57.92,-36.82, -57.01,-36.68, -58.23,-38.27];
const neA83 = [-42.3,-12.52, -41.64,-11.36, -41.55,-11.94];
const neB83 = [-44.27,-13.01, -43.76,-13.67, -44.18,-13.67];
const neC83 = [-40.94,-16.71, -39.88,-16.19, -39.12,-16.13, -39.12,-17.44, -39.73,-18.16, -40.03,-17];
const solidA83 = [-56.62,-23.14, -57.62,-23.37, -58.23,-24.09, -57.92,-24.81, -57.32,-25.39];
const dashA83 = [-58.38,-16.13, -58.08,-15.27, -56.26,-15.12, -55.5,-15.27, -55.28,-16.13, -56.26,-16.57, -57.77,-16.57, -58.38,-16.13];
const dashB83 = [-65.6,-16.42, -65.2,-15.99, -64.29,-16.13, -64.29,-16.71, -64.9,-17, -65.6,-16.42];
const dashC83 = [-64.75,-12.66, -63.23,-12.23, -62.47,-12.37, -62.63,-13.39, -63.84,-13.82, -64.75,-13.39];
const dashD83 = [-58.99,-14.4, -56.56,-14.05, -54.74,-13.59, -53.22,-13.39, -53.68,-12.66, -52.31,-12.08, -50.49,-11.85, -49.43,-12.52, -48.22,-13.1, -46.85,-12.95, -46.61,-12.23];
const dashE83 = [-45.64,-14.4, -45.09,-13.67];
const dashF83 = [-57.47,-12.95, -56.56,-12.52, -55.5,-11.94];
const dashG83 = [-53.83,-14.69, -53.22,-14.69, -52.31,-14.11];
const layers1983 = [[1,main83],[2,mid83],[2,wedge83],[3,high83],[4,upper83],[5,coreA83],[5,coreB83],[6,coreC83],[7,coreD83],[4,lowA83],[5,lowB83],[3,dotA83],[3,dotB83],[1,nw83],[2,nwIn83],[1,blob83],[2,blobIn83],[1,topDot83],[1,westA83],[1,westB83],[1,westC83],[1,westD83],[2,coastBlob83],[1,coastEdge83],[1,smallA83],[1,smallB83],[1,smallC83],[1,south83],[0,holeA83],[0,holeB83],[1,neA83],[1,neB83],[2,neC83]];
const solids1983 = [solidA83, tongue83];
const dashes1983 = [dashA83, dashB83, dashC83, dashD83, dashE83, dashF83, dashG83];
const labels1983 = [['0',-67.17,-15.32,0],['0',-62.63,-16.92,0],['0',-50.89,-14.69,-50],['50',-57.08,-20.29,-30],['50',-44.43,-18.59,-25],['0',-65.51,-21.2,0],['100',-51.95,-24,60],['150',-52.68,-25.01,70],['100',-60.06,-26.26,-50],['0',-63.1,-27.62,-90],['50',-51.52,-28.06,-40],['0',-67.39,-28.63,-60],['0',-52.97,-30.43,0],['0',-55.89,-33.84,0],['0',-63.99,-35.14,-70],['0',-64.23,-36.1,-70]];

const FONT = '"Liberation Sans", Arial, sans-serif';
const CONTOUR = '#1c1c1c';
const LABEL_FONT = 'bold 15.5px ' + FONT;

function pts(flat, closed) {
  const out = [];
  for (let i = 0; i < flat.length; i += 2) out.push({ x: flat[i], y: flat[i + 1] });
  if (closed) out.push(out[0]);
  return out;
}

// contour lines break around their numbers, so strokes are clipped out under each label
// (the filler plugin has already painted the area by the time this hook runs)
function labelPlugin(labels) {
  const each = (chart, fn) => labels.forEach(([text, lon, lat, rot]) => {
    const ctx = chart.ctx;
    ctx.save();
    ctx.translate(chart.scales.x.getPixelForValue(lon), chart.scales.y.getPixelForValue(lat));
    ctx.rotate(rot * Math.PI / 180);
    fn(ctx, text);
    ctx.restore();
  });
  return {
    id: 'contourLabels',
    beforeDatasetDraw(chart, args) {
      if (!chart.data.datasets[args.index].contour) return;
      const ctx = chart.ctx;
      ctx.save();
      ctx.font = LABEL_FONT;
      ctx.beginPath();
      ctx.rect(0, 0, chart.width, chart.height);
      each(chart, (c, text) => {
        const w = c.measureText(text).width + 4;
        c.rect(-w / 2, -7, w, 14);
      });
      ctx.clip('evenodd');
    },
    afterDatasetDraw(chart, args) {
      if (chart.data.datasets[args.index].contour) chart.ctx.restore();
    },
    afterDatasetsDraw(chart) {
      each(chart, (c, text) => {
        c.font = LABEL_FONT;
        c.fillStyle = '#111';
        c.strokeStyle = '#111';
        c.lineWidth = 0.5;
        c.textAlign = 'center';
        c.textBaseline = 'middle';
        c.strokeText(text, 0, 1);
        c.fillText(text, 0, 1);
      });
    }
  };
}

function makeMap(id, box, title, layers, solids, dashes, labels, maskColor) {
  const canvas = document.getElementById(id);
  const marginX = 38, marginTop = 42, marginBottom = 30;
  canvas.width = box.r - box.l + marginX * 2;
  canvas.height = box.b - box.t + marginTop + marginBottom;
  canvas.style.left = (box.l - marginX) + 'px';
  canvas.style.top = (box.t - marginTop) + 'px';

  const datasets = [];
  const base = { pointRadius: 0, borderColor: CONTOUR, borderWidth: 1.1 };
  layers.forEach(([shade, ring]) => {
    datasets.push({ ...base, data: pts(ring, true), fill: 'shape', backgroundColor: shades[shade], tension: ring.length > 12 ? 0.3 : 0, contour: true });
  });
  solids.forEach(line => datasets.push({ ...base, data: pts(line), fill: false, tension: 0.3, contour: true }));
  dashes.forEach(line => datasets.push({ ...base, data: pts(line), fill: false, tension: 0.3, borderDash: [8, 5], contour: true }));
  // everything outside the map region is painted over the contours
  const outerRing = [...plotEdge, ...frame.slice().reverse().flatMap((v, i, a) => i % 2 ? [] : [a[i + 1], v]), plotEdge[0], plotEdge[1]];
  const maskRing = [...frame, ...domain, domain[0], domain[1], frame[0], frame[1]];
  datasets.push({ data: pts(outerRing), fill: 'shape', backgroundColor: '#ffffff', borderWidth: 0, pointRadius: 0 });
  datasets.push({ data: pts(maskRing), fill: 'shape', backgroundColor: maskColor, borderWidth: 0, pointRadius: 0 });
  datasets.push({ data: pts(domain, true), fill: false, borderColor: '#8c8d8f', borderWidth: 2, pointRadius: 0 });
  datasets.push({ data: pts(frame), fill: false, borderColor: maskColor === '#ffffff' ? '#929395' : maskColor, borderWidth: 2, pointRadius: 0 });
  datasets.reverse(); // chart.js paints the last dataset first

  const fixTicks = values => scale => { scale.ticks = values.map(v => ({ value: v })); };
  const tickFont = { family: FONT, size: 16, weight: 'bold' };
  new Chart(canvas, {
    type: 'line',
    data: { datasets },
    options: {
      responsive: false,
      animation: false,
      events: [],
      plugins: {
        legend: { display: false },
        tooltip: { enabled: false },
        title: { display: true, text: title, color: '#111', padding: 0, font: { family: FONT, size: 22.5, weight: 'bold', lineHeight: 1 } }
      },
      scales: {
        x: {
          type: 'linear', position: 'bottom', min: -75, max: -36,
          afterBuildTicks: fixTicks(tickLon),
          afterFit: s => { s.height = marginBottom; },
          border: { color: '#222', width: 1 },
          grid: { drawOnChartArea: false, tickLength: 5, tickColor: '#222' },
          ticks: { color: '#111', font: tickFont, padding: 2, maxRotation: 0, autoSkip: false, callback: v => String(v) }
        },
        top: {
          type: 'linear', axis: 'x', position: 'top', min: -75, max: -36,
          afterBuildTicks: fixTicks(tickLon),
          afterFit: s => { s.height = marginTop - 22.5; },
          border: { color: '#6e6f71', width: 1.5 },
          grid: { drawOnChartArea: false, tickLength: 5, tickColor: '#222' },
          ticks: { display: false }
        },
        y: {
          type: 'linear', position: 'left', min: -40, max: -10,
          afterBuildTicks: fixTicks(tickLat),
          afterFit: s => { s.width = marginX; },
          border: { color: '#222', width: 1 },
          grid: { drawOnChartArea: false, tickLength: 4, tickColor: '#222' },
          ticks: { color: '#111', font: tickFont, padding: 0, autoSkip: false, callback: v => String(v) }
        },
        right: {
          type: 'linear', axis: 'y', position: 'right', min: -40, max: -10,
          afterBuildTicks: fixTicks(tickLat),
          afterFit: s => { s.width = marginX; },
          border: { color: '#555658', width: 2 },
          grid: { drawOnChartArea: false, tickLength: 5, tickColor: '#444' },
          ticks: { display: false }
        }
      }
    },
    plugins: [labelPlugin(labels)]
  });
}

makeMap('map1966', { l: 54, r: 514, t: 66, b: 419 }, 'Abril 1966', layers1966, solids1966, dashes1966, labels1966, '#ffffff');
makeMap('map1969', { l: 612, r: 1082, t: 67, b: 428 }, 'Abril 1969', layers1969, [], dashes1969, labels1969, '#ffffff');
makeMap('map1980', { l: 54, r: 503, t: 549, b: 894 }, 'Abril 1980', layers1980, solids1980, dashes1980, labels1980, '#88898b');
makeMap('map1983', { l: 633, r: 1082, t: 549, b: 894 }, 'Abril 1983', layers1983, solids1983, dashes1983, labels1983, '#ffffff');
</script>
</body>
</html>
